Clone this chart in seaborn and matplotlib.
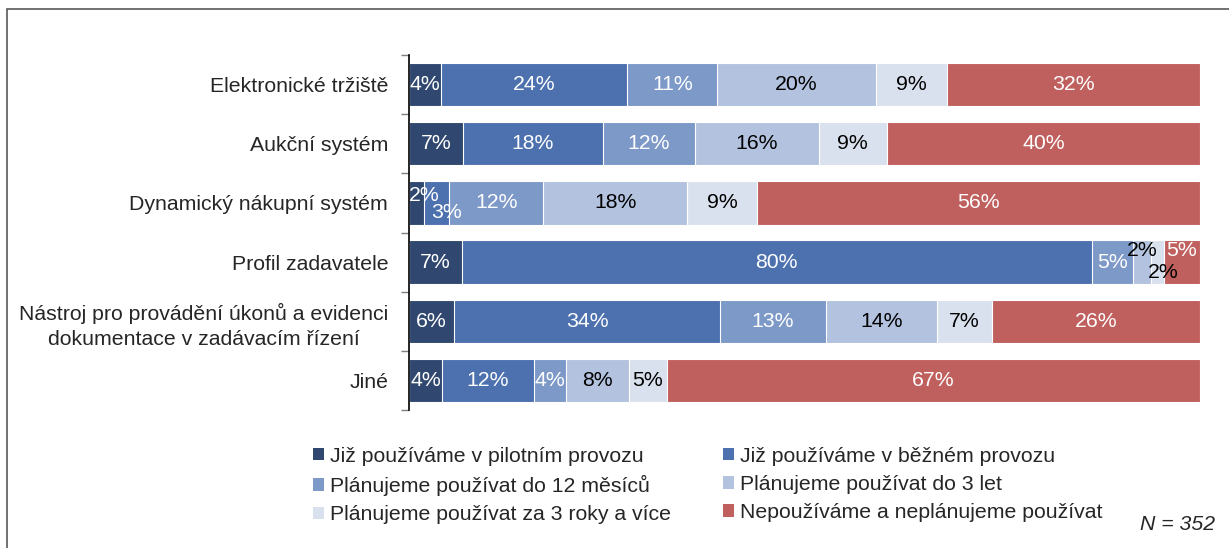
import matplotlib
matplotlib.use("Agg")
import matplotlib.pyplot as plt
from matplotlib.patches import Patch, Rectangle
import seaborn as sns
import pandas as pd
import numpy as np

categories = [
    "Elektronické tržiště",
    "Aukční systém",
    "Dynamický nákupní systém",
    "Profil zadavatele",
    "Nástroj pro provádění úkonů a evidenci\ndokumentace v zadávacím řízení",
    "Jiné",
]
series = [
    "Již používáme v pilotním provozu",
    "Již používáme v běžném provozu",
    "Plánujeme používat do 12 měsíců",
    "Plánujeme používat do 3 let",
    "Plánujeme používat za 3 roky a více",
    "Nepoužíváme a neplánujeme používat",
]
pilot = [4.1, 6.8, 1.9, 6.7, 5.7, 4.2]
bezny = [23.5, 17.7, 3.2, 79.6, 33.6, 11.6]
do12 = [11.4, 11.6, 11.9, 5.2, 13.4, 4.0]
do3 = [20.0, 15.7, 18.2, 2.3, 14.0, 8.0]
za3 = [9.0, 8.6, 8.8, 1.6, 7.0, 4.8]
nepouz = [32.0, 39.6, 56.0, 4.6, 26.3, 67.4]
n_label = "N = 352"

colors = ["#30486F", "#4C71AE", "#7D99C8", "#B3C3DF", "#DAE1EE", "#C0605E"]
text_colors = ["white", "white", "white", "black", "black", "white"]

sns.set_theme(style="white")
plt.rcParams["font.family"] = ["Liberation Sans", "DejaVu Sans"]
FS = 15.3

values = np.array([pilot, bezny, do12, do3, za3, nepouz])
cums = np.cumsum(values, axis=0)

fig = plt.figure(figsize=(12.29, 5.48), dpi=100)
ax = fig.add_axes([409 / 1229, 1 - 410 / 548, (1200 - 409) / 1229, (410 - 55) / 548])

for i in range(len(series) - 1, -1, -1):
    df = pd.DataFrame({"cat": categories, "val": cums[i]})
    sns.barplot(data=df, x="val", y="cat", orient="h", color=colors[i],
                width=0.73, edgecolor="white", linewidth=0.8, saturation=1,
                ax=ax, order=categories)

# label placement tweaks for tiny segments: (series, category) -> (dx, dy)
offsets = {(0, 2): (1.0, -0.13), (1, 2): (1.3, 0.16), (3, 3): (0.0, -0.2),
           (4, 3): (0.7, 0.17), (5, 3): (0.0, -0.2)}
for i in range(len(series)):
    for j in range(len(categories)):
        v = values[i, j]
        xc = cums[i, j] - v / 2
        dx, dy = offsets.get((i, j), (0, 0))
        ax.text(xc + dx, j + dy, f"{int(round(v))}%", ha="center", va="center",
                color=text_colors[i], fontsize=FS)

ax.set_xlim(0, 100)
ax.set_ylim(len(categories) - 0.5, -0.5)
ax.set_xlabel("")
ax.set_ylabel("")
ax.set_xticks([])
for s in ["top", "right", "bottom"]:
    ax.spines[s].set_visible(False)
ax.spines["left"].set_color("black")
ax.spines["left"].set_linewidth(1.2)
ax.set_yticks(range(len(categories)))
ax.set_yticklabels(categories, fontsize=FS, multialignment="center", linespacing=1.35)
ax.tick_params(axis="y", which="major", length=0, pad=15)
ax.set_yticks(np.arange(-0.5, len(categories), 1), minor=True)
ax.tick_params(axis="y", which="minor", length=6, width=1, color="#7f7f7f", direction="out", left=True)

handles = [Patch(facecolor=c, edgecolor="none") for c in colors]
order = [0, 2, 4, 1, 3, 5]
leg = fig.legend([handles[k] for k in order], [series[k] for k in order],
                 ncol=2, loc="upper left", bbox_to_anchor=(304 / 1229, 1 - 438 / 548),
                 frameon=False, fontsize=FS, handlelength=0.52, handleheight=0.52,
                 handletextpad=0.28, columnspacing=2.45, labelspacing=0.44, borderaxespad=0)

fig.text(1215 / 1229, 1 - 524 / 548, n_label, ha="right", va="center",
         fontsize=FS, style="italic")

fig.add_artist(Rectangle((7 / 1229, -0.2), 1.5, 1.2 - 9 / 548, transform=fig.transFigure,
                         fill=False, edgecolor="#595959", linewidth=1.2))

fig.savefig("out.png", dpi=100)
